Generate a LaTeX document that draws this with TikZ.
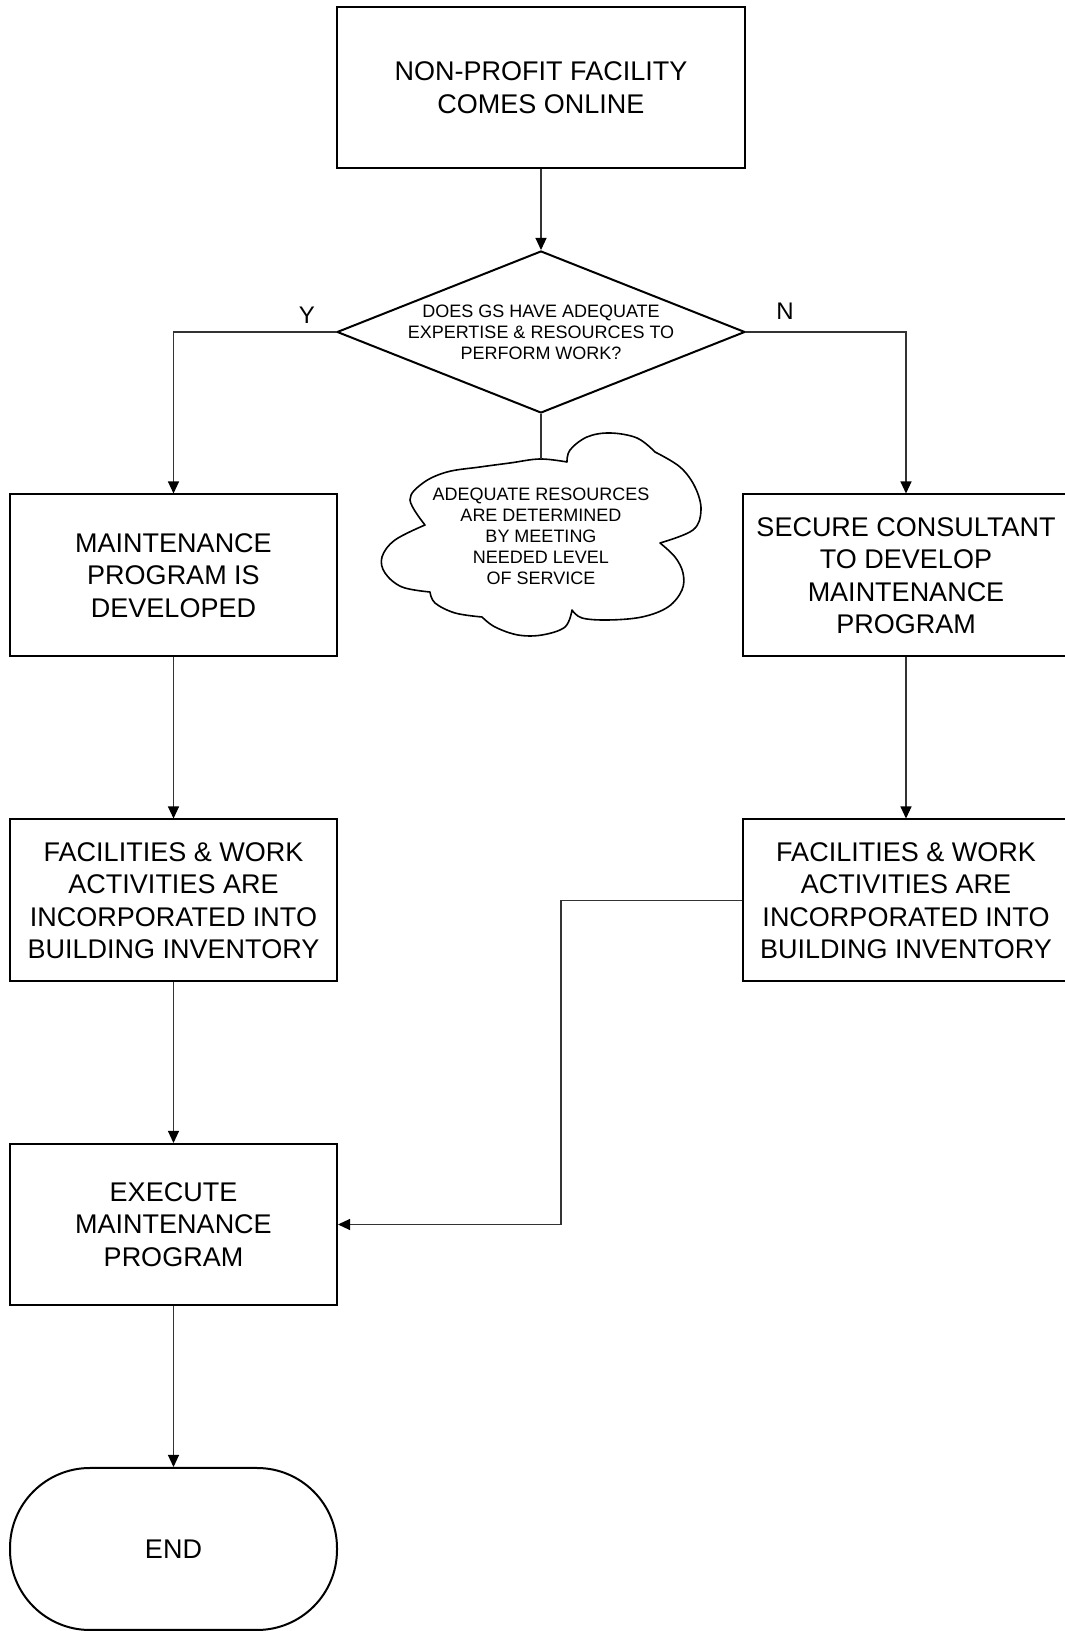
\documentclass[tikz,border=0pt]{standalone}
\usepackage{fontspec}
\setmainfont{Liberation Sans}
\usetikzlibrary{arrows.meta,shapes.geometric}
\begin{document}
\begin{tikzpicture}[x=1pt,y=1pt,
  box/.style={draw, line width=2pt, minimum width=327pt, minimum height=162pt,
    inner sep=0pt, align=center, font=\fontsize{27}{32.5}\selectfont},
  conn/.style={draw=black!80, line width=1.1pt},
  arr/.style={conn, -{Triangle[length=12pt,width=11pt,color=black]}},
  lbl/.style={font=\fontsize{24}{28}\selectfont},
  small/.style={align=center, inner sep=0pt, font=\fontsize{18}{21}\selectfont},
  cloudline/.style={draw, line width=1.6pt, line join=round}
]
\useasboundingbox (0,0) rectangle (1065,1631);
\clip (0,0) rectangle (1065,1631);

% start
\node[box, minimum width=408pt, minimum height=161pt] (top) at (541,1543.5)
  {NON-PROFIT FACILITY\\COMES ONLINE};

% decision
\node[draw, diamond, line width=2pt, inner sep=0pt, minimum width=408pt,
  minimum height=162pt] (dec) at (541,1299) {};
\node[small] (dectext) at (dec.center)
  {DOES GS HAVE ADEQUATE\\EXPERTISE \& RESOURCES TO\\PERFORM WORK?};

% yes branch
\node[box] (m1) at (173.5,1055.5) {MAINTENANCE\\PROGRAM IS\\DEVELOPED};
\node[box] (f1) at (173.5,730.5)
  {FACILITIES \& WORK\\ACTIVITIES ARE\\INCORPORATED INTO\\BUILDING INVENTORY};
\node[box, minimum height=161pt] (ex) at (173.5,406.5)
  {EXECUTE\\MAINTENANCE\\PROGRAM};
\node[box, rounded corners=80pt] (end) at (173.5,82) {END};

% no branch
\node[box, minimum width=326pt] (s1) at (906,1055.5)
  {SECURE CONSULTANT\\TO DEVELOP\\MAINTENANCE\\PROGRAM};
\node[box, minimum width=326pt] (f2) at (906,730.5)
  {FACILITIES \& WORK\\ACTIVITIES ARE\\INCORPORATED INTO\\BUILDING INVENTORY};

% branch labels
\node[lbl] (ylab) at (307,1315.5) {Y};
\node[lbl] (nlab) at (785,1320) {N};

% annotation cloud
\draw[cloudline]
  plot[smooth,tension=0.6] coordinates {(425,1106) (410,1131) (423,1148) (447,1159) (480,1164) (510,1168) (540,1172) (567,1169)}
  -- plot[smooth,tension=0.6] coordinates {(567,1169) (570,1181) (587,1194) (610,1198) (637,1193) (655,1179)}
  -- plot[smooth,tension=0.6] coordinates {(655,1179) (680,1164) (695,1144) (701,1121) (693,1101) (660,1088)}
  -- plot[smooth,tension=0.6] coordinates {(660,1088) (675,1074) (683,1058) (682,1041) (668,1024) (642,1014) (608,1011) (582,1013) (572,1021)}
  -- plot[smooth,tension=0.6] coordinates {(572,1021) (565,1004) (542,996) (518,996) (495,1004) (482,1014)}
  -- plot[smooth,tension=0.6] coordinates {(482,1014) (455,1018) (435,1028) (430,1039)}
  -- plot[smooth,tension=0.6] coordinates {(430,1039) (402,1044) (385,1058) (382,1074) (395,1091) (425,1106)}
  -- cycle;
\coordinate (cloudtop) at (541,1172);
\node[small] (note) at (541,1095)
  {ADEQUATE RESOURCES\\ARE DETERMINED\\BY MEETING\\NEEDED LEVEL\\OF SERVICE};

% connectors
\draw[arr] (top.south) -- (dec.north);
\draw[arr] (dec.west) -| (m1.north);
\draw[arr] (dec.east) -| (s1.north);
\draw[conn] (dec.south) -- (cloudtop);
\draw[arr] (m1.south) -- (f1.north);
\draw[arr] (f1.south) -- (ex.north);
\draw[arr] (ex.south) -- (end.north);
\draw[arr] (s1.south) -- (f2.north);
\coordinate (jog) at (561,730.5);
\draw[arr] (f2.west) -- (jog) |- (ex.east);
\end{tikzpicture}
\end{document}
